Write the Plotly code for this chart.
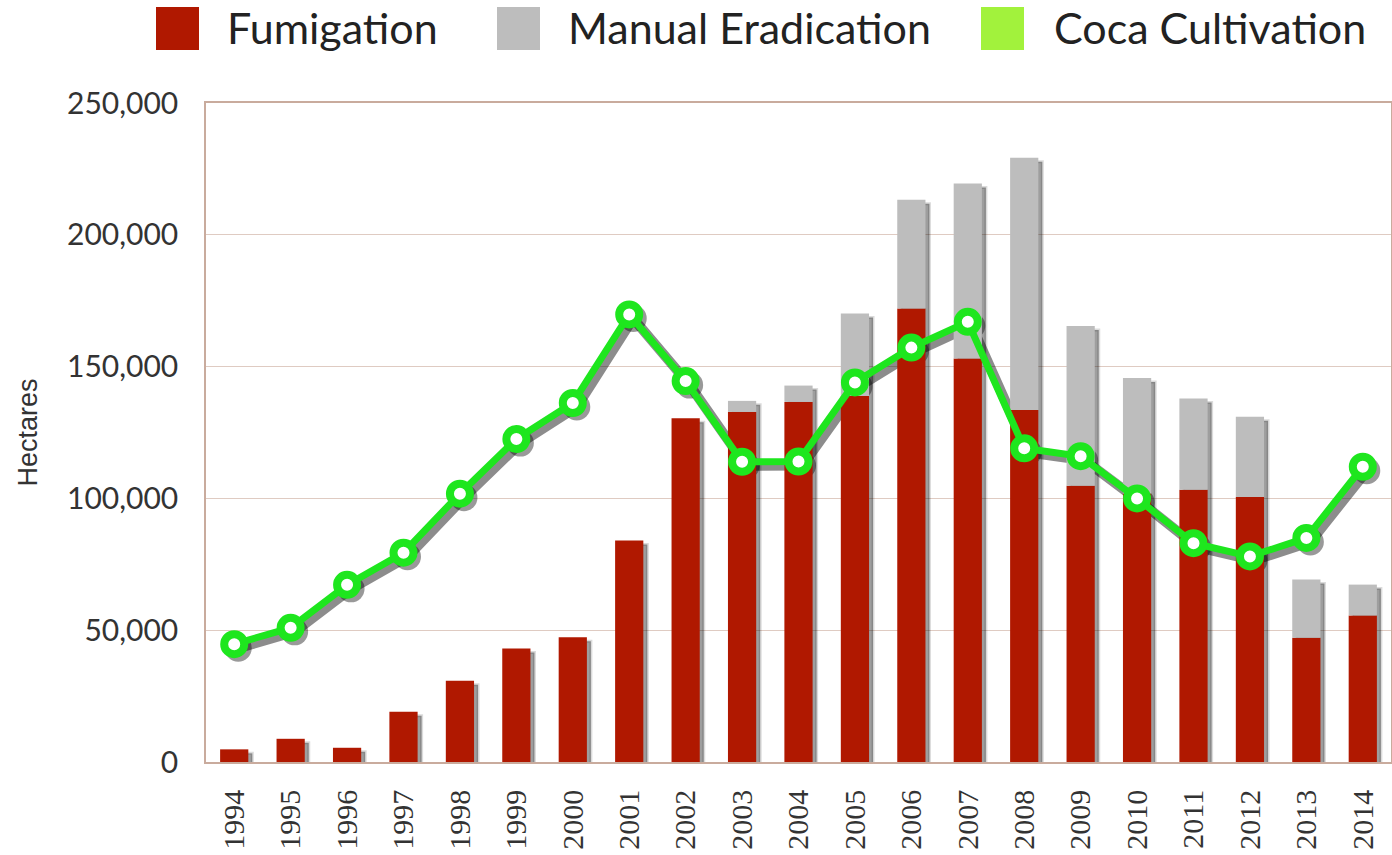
import plotly.graph_objects as go

years = ["1994", "1995", "1996", "1997", "1998", "1999", "2000", "2001", "2002", "2003",
         "2004", "2005", "2006", "2007", "2008", "2009", "2010", "2011", "2012", "2013", "2014"]
fumigation = [4800, 8800, 5400, 19100, 30800, 43100, 47300, 84000, 130400, 132800,
              136600, 138800, 172000, 153100, 133500, 104800, 101900, 103300, 100500, 47100, 55600]
manual = [0, 0, 0, 0, 0, 0, 0, 0, 0, 4200,
          6200, 31300, 41300, 66400, 95700, 60600, 43800, 34600, 30500, 22100, 11700]
coca = [44700, 50900, 67200, 79400, 101800, 122500, 136200, 169800, 144500, 113900,
        114000, 144000, 157200, 167000, 119000, 116000, 100000, 83000, 78000, 85000, 112000]
total = [f + m for f, m in zip(fumigation, manual)]

W, H = 1392, 855
L, R, T, B = 206, 1, 103, 93
PW = W - L - R
PH = H - T - B
YMAX = 250000
SHX, SHY = 4, 4  # shadow offset in px
dx = SHX * 21 / PW
dy = SHY * YMAX / PH

RED = "#b01800"
GRAY = "#bdbdbd"
GREEN = "#1ee61e"
LEG_GREEN = "#a2f23c"
GRID = "#dfcbc2"
AXLINE = "#c9ab9d"

fig = go.Figure()

# shadows (on hidden, slightly shifted base axes)
fig.add_trace(go.Bar(x=years, y=total, width=0.5, marker=dict(color="rgba(0,0,0,0.38)",
                     line=dict(color="rgba(0,0,0,0.14)", width=3)),
                     cliponaxis=False, xaxis="x", yaxis="y", hoverinfo="skip", showlegend=False))
fig.add_trace(go.Scatter(x=years, y=coca, mode="lines+markers", xaxis="x", yaxis="y",
                         line=dict(color="rgba(0,0,0,0.45)", width=10),
                         marker=dict(size=27, color="rgba(0,0,0,0.40)"),
                         hoverinfo="skip", showlegend=False))

# real data on overlay axes
fig.add_trace(go.Bar(x=years, y=fumigation, name="Fumigation", width=0.5,
                     marker=dict(color=RED, line=dict(width=0)), xaxis="x2", yaxis="y2"))
fig.add_trace(go.Bar(x=years, y=manual, base=fumigation, name="Manual Eradication", width=0.5,
                     marker=dict(color=GRAY, line=dict(width=0)), xaxis="x2", yaxis="y2"))
fig.add_trace(go.Scatter(x=years, y=coca, name="Coca Cultivation", mode="lines+markers",
                         line=dict(color=GREEN, width=7),
                         marker=dict(size=20, color="white", line=dict(color=GREEN, width=8)),
                         xaxis="x2", yaxis="y2"))

fig.update_layout(
    width=W, height=H,
    margin=dict(l=L, r=R, t=T, b=B, autoexpand=False),
    paper_bgcolor="white", plot_bgcolor="white",
    barmode="overlay",
    showlegend=False,
    xaxis=dict(type="category", categoryorder="array", categoryarray=years, automargin=False,
               range=[-0.5 - dx, 20.5 - dx], visible=False, showgrid=False),
    yaxis=dict(range=[0 + dy, YMAX + dy], visible=False, showgrid=False, zeroline=False,
               automargin=False),
    xaxis2=dict(type="category", categoryorder="array", categoryarray=years,
                range=[-0.5, 20.5], overlaying="x", anchor="y2", side="bottom", automargin=False,
                showline=True, linecolor=AXLINE, linewidth=1.5, mirror=True,
                showgrid=False, tickangle=-90, ticks="", ticklabelstandoff=14,
                tickfont=dict(family="Liberation Sans Narrow", size=30, color="#333333")),
    yaxis2=dict(range=[0, YMAX], overlaying="y", anchor="x2", side="left", automargin=False,
                tickvals=[0, 50000, 100000, 150000, 200000, 250000],
                ticktext=["0", "50,000", "100,000", "150,000", "200,000", "250,000"],
                showline=True, linecolor=AXLINE, linewidth=1.5, mirror=True,
                showgrid=True, gridcolor=GRID, gridwidth=1, zeroline=False,
                ticks="", ticklabelstandoff=20,
                tickfont=dict(family="Lato", size=30, color="#333333"),
                title=dict(text="Hectares", standoff=22,
                           font=dict(family="Liberation Sans", size=27, color="#333333"))),
)

def px2x(px):
    return (px - L) / PW

def py2y(py):
    return (H - B - py) / PH

legend_items = [("Fumigation", RED, 156, 225), ("Manual Eradication", GRAY, 497, 566),
                ("Coca Cultivation", LEG_GREEN, 981, 1052)]
for label, col, sx, tx in legend_items:
    fig.add_shape(type="rect", xref="paper", yref="paper",
                  x0=px2x(sx), x1=px2x(sx + 43), y0=py2y(50), y1=py2y(7),
                  fillcolor=col, line=dict(width=0), layer="above")
    fig.add_annotation(xref="paper", yref="paper", x=px2x(tx), y=py2y(28),
                       xanchor="left", yanchor="middle", showarrow=False, text=label,
                       font=dict(family="Lato", size=43, color="#222222"))

fig.write_html("out.html", config={"displayModeBar": False},
               post_script="document.body.style.margin='0';document.body.style.overflow='hidden';")
